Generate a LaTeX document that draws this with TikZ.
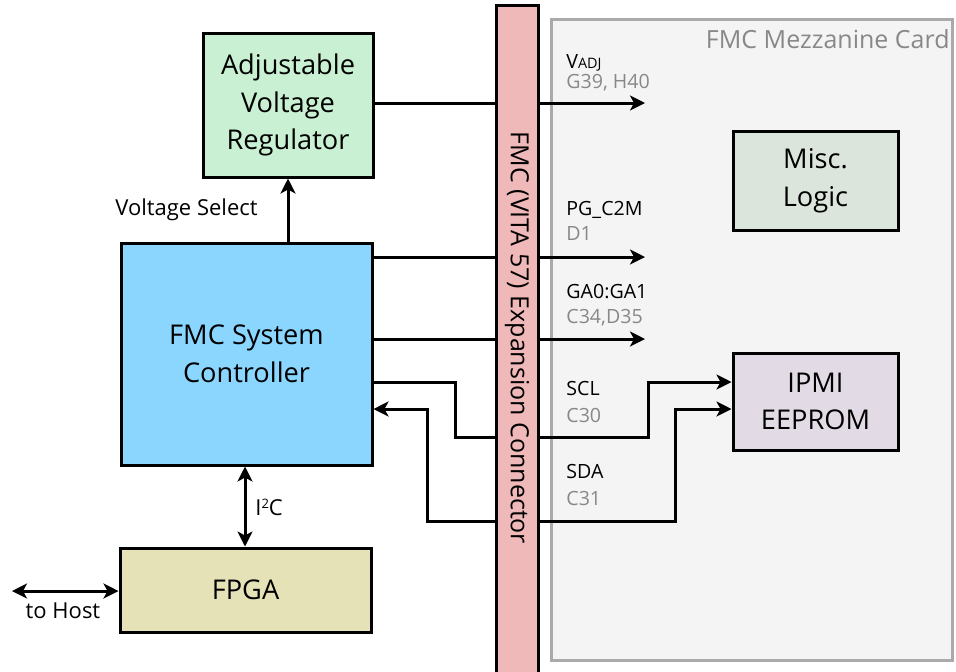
\documentclass[tikz,border=0pt]{standalone}
\usepackage{fontspec}
\setmainfont{Open Sans}
\usetikzlibrary{arrows.meta}
\definecolor{regbg}{RGB}{201,240,210}
\definecolor{ctrlbg}{RGB}{138,214,255}
\definecolor{fpgabg}{RGB}{230,226,183}
\definecolor{miscbg}{RGB}{220,229,220}
\definecolor{ipmibg}{RGB}{226,219,230}
\definecolor{connbg}{RGB}{240,185,185}
\definecolor{cardbg}{RGB}{243,244,243}
\definecolor{cardline}{RGB}{170,170,170}
\definecolor{pingray}{RGB}{136,136,136}

\begin{document}
\begin{tikzpicture}[
    x=0.5pt, y=-0.5pt,
    block/.style={
        rectangle,
        draw=black,
        line width=1.5pt,
        align=center,
        inner sep=0pt,
        font=\fontsize{13.6}{18.8}\selectfont
    },
    sig/.style={
        line width=1.5pt,
        -{Stealth[length=7.5pt, width=7.5pt, inset=2pt]}
    },
    bisig/.style={
        line width=1.5pt,
        {Stealth[length=7.5pt, width=7.5pt, inset=2pt]}-{Stealth[length=7.5pt, width=7.5pt, inset=2pt]}
    },
    lbl/.style={anchor=base west, inner sep=0pt, font=\fontsize{9.8}{11}\selectfont},
    pinlbl/.style={lbl, text=pingray},
    note/.style={inner sep=0pt, font=\fontsize{11}{13}\selectfont}
]
\useasboundingbox (0,0) rectangle (956,671);

% Mezzanine card
\draw[cardline, fill=cardbg, line width=1.5pt] (551,19) rectangle (952,660);
\node[anchor=base east, inner sep=0pt, text=pingray, font=\fontsize{12.5}{14}\selectfont] (cardtitle) at (950,48) {FMC Mezzanine Card};

% Carrier side blocks
\node[block, fill=regbg, minimum width=85pt, minimum height=72pt] (reg) at (288,105) {Adjustable\\Voltage\\Regulator};
\node[block, fill=ctrlbg, minimum width=125.5pt, minimum height=111pt] (ctrl) at (246.5,354) {FMC System\\Controller};
\node[block, fill=fpgabg, minimum width=125.5pt, minimum height=42pt] (fpga) at (245.5,590) {FPGA};

% Mezzanine blocks
\node[block, fill=miscbg, minimum width=82.5pt, minimum height=49.5pt] (misc) at (815.5,180.5) {Misc.\\Logic};
\node[block, fill=ipmibg, minimum width=82.5pt, minimum height=48.5pt] (ipmi) at (815.5,401.5) {IPMI\\EEPROM};

% Free ends of the signals
\coordinate (vadj) at (645,103);
\coordinate (pg) at (645,257);
\coordinate (ga) at (645,339);
\coordinate (host) at (12,591);

% Signals
\draw[sig] (reg.east |- vadj) -- (vadj);
\draw[sig] (ctrl.north -| reg.south) -- (reg.south);
\draw[sig] (ctrl.east |- pg) -- (pg);
\draw[sig] (ctrl.east |- ga) -- (ga);
\draw[sig] (ctrl.east |- 0,382) -- (455,382) -- (455,437) -- (648,437) -- (648,382) -- (ipmi.west |- 0,382);
\draw[bisig] (ctrl.east |- 0,409) -- (427,409) -- (427,521) -- (675,521) -- (675,409) -- (ipmi.west |- 0,409);
\draw[bisig] (ctrl.south -| 245,0) -- (fpga.north -| 245,0);
\draw[bisig] (host) -- (fpga.west |- host);

% Connector
\node[block, fill=connbg, minimum width=21pt, minimum height=337pt] (conn) at (517,342) {};
\node[rotate=-90, inner sep=0pt, font=\fontsize{12.5}{14}\selectfont] (conntext) at (517,338) {FMC (VITA 57) Expansion Connector};

% Signal labels
\node[note, anchor=base east] (vsel) at (258,215) {Voltage Select};
\node[note, anchor=base west] (i2c) at (255,515) {I\raisebox{3.5pt}{\fontsize{6.5}{7}\selectfont 2}C};
\node[note, anchor=base] (tohost) at (63,618) {to Host};

\node[lbl] (vadjname) at (566,68) {V{\fontsize{7.2}{8}\selectfont ADJ}};
\node[pinlbl] (vadjpin) at (566,88) {G39, H40};
\node[lbl] (pgname) at (566,215) {PG\_C2M};
\node[pinlbl] (pgpin) at (566,240) {D1};
\node[lbl] (ganame) at (566,298) {GA0:GA1};
\node[pinlbl] (gapin) at (566,323) {C34,D35};
\node[lbl] (sclname) at (566,395) {SCL};
\node[pinlbl] (sclpin) at (566,422) {C30};
\node[lbl] (sdaname) at (566,478) {SDA};
\node[pinlbl] (sdapin) at (566,505) {C31};

\end{tikzpicture}
\end{document}
